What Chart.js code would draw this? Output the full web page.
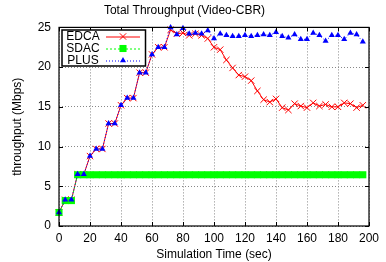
<!DOCTYPE html>
<html>
<head>
<meta charset="utf-8">
<title>Total Throughput (Video-CBR)</title>
<script src="https://cdn.jsdelivr.net/npm/chart.js@4.4.1/dist/chart.umd.min.js"></script>
<style>
  html, body { margin: 0; padding: 0; background: #fff; }
</style>
</head>
<body>
<canvas id="tput" width="386" height="262"></canvas>
<script>
// Datos (segundos / Mbps)
const simTime = [0, 4, 8, 12, 16, 20, 24, 28, 32, 36, 40, 44, 48, 52, 56, 60, 64, 68,
    72, 76, 80, 84, 88, 92, 96, 100, 104, 108, 112, 116, 120, 124, 128, 132, 136, 140,
    144, 148, 152, 156, 160, 164, 168, 172, 176, 180, 184, 188, 192, 196];

const edca = [1.7, 3.3, 3.3, 6.5, 6.5, 8.8, 9.7, 9.7, 12.9, 12.9, 15.2, 16.1, 16.1, 19.3, 19.3, 21.6, 22.5, 22.5,
    24.7, 24.2, 24.3, 24.0, 24.2, 24.0, 23.6, 22.5, 22.2, 20.9, 19.9, 19.0, 18.8, 18.3, 17.0, 15.9, 15.6, 16.0,
    14.9, 14.6, 15.4, 15.1, 14.9, 15.5, 15.1, 15.3, 15.0, 15.0, 15.5, 15.4, 14.9, 15.2];

const sdac = [1.7, 3.2, 3.2, 6.45, 6.45, 6.45, 6.45, 6.45, 6.45, 6.45, 6.45, 6.45, 6.45, 6.45, 6.45, 6.45, 6.45, 6.45,
    6.45, 6.45, 6.45, 6.45, 6.45, 6.45, 6.45, 6.45, 6.45, 6.45, 6.45, 6.45, 6.45, 6.45, 6.45, 6.45, 6.45, 6.45,
    6.45, 6.45, 6.45, 6.45, 6.45, 6.45, 6.45, 6.45, 6.45, 6.45, 6.45, 6.45, 6.45, 6.45];

const plus = [1.7, 3.3, 3.3, 6.5, 6.5, 8.8, 9.7, 9.7, 12.9, 12.9, 15.2, 16.1, 16.1, 19.3, 19.3, 21.6, 22.5, 22.5,
    25.0, 24.1, 24.9, 24.2, 24.3, 24.2, 24.6, 23.6, 24.2, 24.0, 23.9, 23.9, 24.0, 23.9, 24.0, 24.1, 24.0, 24.4,
    23.9, 23.7, 24.1, 23.5, 23.5, 24.3, 24.0, 23.3, 24.0, 24.0, 23.5, 24.3, 24.1, 23.2];

const seriesNames = ["EDCA", "SDAC", "PLUS"];

const FONT = "'Liberation Sans', Arial, sans-serif";

function toPoints(values) {
    return simTime.map((t, i) => ({ x: t, y: values[i] }));
}

// marco estilo gnuplot: borde negro + ticks hacia adentro + leyenda con caja
const gnuplotFrame = {
    id: 'gnuplotFrame',
    afterDatasetsDraw(chart) {
        const { ctx, chartArea: a, scales } = chart;
        const tick = 4;
        ctx.save();
        ctx.strokeStyle = '#000';
        ctx.lineWidth = 1;
        ctx.setLineDash([]);
        ctx.beginPath();
        scales.x.ticks.forEach(t => {
            const px = Math.round(scales.x.getPixelForValue(t.value)) + 0.5;
            ctx.moveTo(px, a.bottom); ctx.lineTo(px, a.bottom - tick);
            ctx.moveTo(px, a.top); ctx.lineTo(px, a.top + tick);
        });
        scales.y.ticks.forEach(t => {
            const py = Math.round(scales.y.getPixelForValue(t.value)) + 0.5;
            ctx.moveTo(a.left, py); ctx.lineTo(a.left + tick, py);
            ctx.moveTo(a.right, py); ctx.lineTo(a.right - tick, py);
        });
        ctx.stroke();
        ctx.lineWidth = 1.2;
        ctx.strokeRect(a.left, a.top, a.right - a.left, a.bottom - a.top);

        // leyenda
        const box = { left: 62, top: 30, right: 145.5, bottom: 66 };
        ctx.fillStyle = '#fff';
        ctx.fillRect(box.left, box.top, box.right - box.left, box.bottom - box.top);
        ctx.lineWidth = 1.5;
        ctx.strokeRect(box.left, box.top, box.right - box.left, box.bottom - box.top);

        const rowY = [36.5, 48.5, 60.5];
        ctx.font = '12px ' + FONT;
        ctx.textAlign = 'center';
        ctx.textBaseline = 'middle';
        const drawPoint = Chart.helpers && Chart.helpers.drawPoint;
        chart.data.datasets.forEach((ds, i) => {
            const y = rowY[i];
            ctx.fillStyle = '#000';
            ctx.fillText(seriesNames[i], 83, y);
            ctx.strokeStyle = ds.borderColor;
            ctx.lineWidth = 1;
            ctx.setLineDash(ds.borderDash || []);
            ctx.beginPath();
            ctx.moveTo(106, y + 0.5);
            ctx.lineTo(140, y + 0.5);
            ctx.stroke();
            ctx.setLineDash([]);
            if (drawPoint) {
                ctx.fillStyle = ds.pointBackgroundColor;
                ctx.strokeStyle = ds.pointBorderColor;
                ctx.lineWidth = ds.pointBorderWidth || 1;
                drawPoint(ctx, {
                    pointStyle: ds.pointStyle,
                    radius: ds.pointRadius,
                    rotation: 0,
                    borderWidth: ds.pointBorderWidth
                }, 123, y);
            }
        });
        ctx.restore();
    }
};

new Chart(document.getElementById('tput'), {
    type: 'line',
    data: {
        datasets: [{
            label: seriesNames[0],
            data: toPoints(edca),
            borderColor: '#ff0000',
            borderWidth: 1,
            pointStyle: 'crossRot',
            pointRadius: 4.5,
            pointBorderWidth: 1,
            pointBorderColor: '#ff0000',
            pointBackgroundColor: '#ff0000',
            tension: 0,
            clip: false,
            order: 3
        }, {
            label: seriesNames[1],
            data: toPoints(sdac),
            borderColor: '#00ff00',
            borderWidth: 1,
            borderDash: [2, 2],
            pointStyle: 'rect',
            pointRadius: 5,
            pointBorderWidth: 0,
            pointBorderColor: '#00ff00',
            pointBackgroundColor: '#00ff00',
            tension: 0,
            clip: false,
            order: 2
        }, {
            label: seriesNames[2],
            data: toPoints(plus),
            borderColor: '#0000ff',
            borderWidth: 1,
            borderDash: [1, 2],
            pointStyle: 'triangle',
            pointRadius: 3.5,
            pointBorderWidth: 0,
            pointBorderColor: '#0000ff',
            pointBackgroundColor: '#0000ff',
            tension: 0,
            clip: false,
            order: 1
        }]
    },
    options: {
        responsive: false,
        animation: false,
        devicePixelRatio: 1,
        layout: { padding: { left: 0, right: 17, top: 0, bottom: 0 } },
        plugins: {
            legend: { display: false },
            tooltip: { enabled: false },
            title: {
                display: true,
                text: 'Total Throughput (Video-CBR)',
                color: '#000',
                font: { family: FONT, size: 12, weight: 'normal' },
                padding: { top: 3, bottom: 10 }
            }
        },
        scales: {
            x: {
                type: 'linear',
                min: 0,
                max: 200,
                ticks: { stepSize: 20, color: '#000', padding: 5, font: { family: FONT, size: 12 } },
                grid: { color: '#888', drawTicks: false, lineWidth: 1 },
                border: { display: false, dash: [1, 2] },
                title: {
                    display: true,
                    text: 'Simulation Time (sec)',
                    color: '#000',
                    font: { family: FONT, size: 12 },
                    padding: { top: 0, bottom: 0 }
                },
                afterFit: (scale) => { scale.height = 36; }
            },
            y: {
                min: 0,
                max: 25,
                ticks: { stepSize: 5, color: '#000', padding: 8, font: { family: FONT, size: 12 } },
                grid: { color: '#888', drawTicks: false, lineWidth: 1 },
                border: { display: false, dash: [1, 2] },
                title: {
                    display: true,
                    text: 'throughput (Mbps)',
                    color: '#000',
                    font: { family: FONT, size: 12 },
                    padding: { top: 10, bottom: 0 }
                },
                afterFit: (scale) => { scale.width = 59; }
            }
        }
    },
    plugins: [gnuplotFrame]
});
</script>
</body>
</html>
